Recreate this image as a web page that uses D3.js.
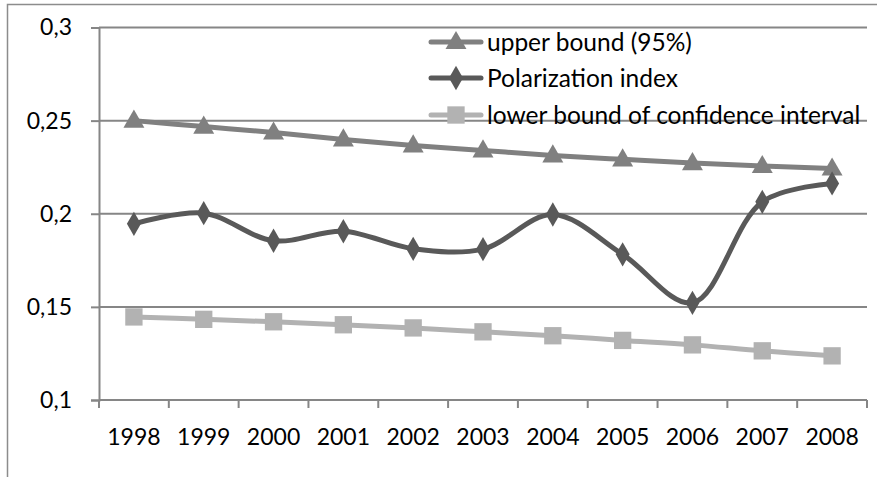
<!DOCTYPE html>
<html>
<head>
<meta charset="utf-8">
<script src="https://cdn.jsdelivr.net/npm/d3@7"></script>
<style>
  body { margin: 0; background: #fff; }
  svg { display: block; font-family: Lato, "Open Sans", sans-serif; }
</style>
</head>
<body>
<svg id="chart" width="877" height="477"></svg>
<script>
// values
const years = ["1998", "1999", "2000", "2001", "2002", "2003", "2004", "2005", "2006", "2007", "2008"];
const upperBound = [0.250, 0.2468, 0.2436, 0.2399, 0.2367, 0.2340, 0.2313, 0.2292, 0.2272, 0.2256, 0.2243];
const polarization = [0.1946, 0.2003, 0.1855, 0.1906, 0.1812, 0.1810, 0.1996, 0.1782, 0.1522, 0.2064, 0.2163];
const lowerBound = [0.1446, 0.1433, 0.1420, 0.1404, 0.1387, 0.1366, 0.1345, 0.1320, 0.1296, 0.1264, 0.1237];
const yTicks = [0.1, 0.15, 0.2, 0.25, 0.3];

const series = [
  { name: "upper bound (95%)", values: upperBound, color: "#808080", symbol: d3.symbolTriangle, size: 190 },
  { name: "Polarization index", values: polarization, color: "#595959", symbol: d3.symbolDiamond, size: 170 },
  { name: "lower bound of confidence interval", values: lowerBound, color: "#b2b2b2", symbol: d3.symbolSquare, size: 300 }
];

const svg = d3.select("#chart");
const margin = { top: 27.5, right: 10, bottom: 77, left: 99 };
const width = 877, height = 477;
const fontSize = 23;
const legendFontSize = 24.5;

const x = d3.scaleBand()
  .domain(years)
  .range([margin.left, width - margin.right]);

const y = d3.scaleLinear()
  .domain([0.1, 0.3])
  .range([height - margin.bottom, margin.top]);

const gridColor = "#868686";

// outer frame (only top and left edges show)
svg.append("path")
  .attr("d", `M7.5,${height}V4.5H${width}`)
  .attr("fill", "none")
  .attr("stroke", "#8c8c8c")
  .attr("stroke-width", 1.5);

// gridlines
svg.append("g")
  .selectAll("line")
  .data(yTicks.slice(1))
  .join("line")
  .attr("x1", margin.left)
  .attr("x2", width - margin.right)
  .attr("y1", d => y(d))
  .attr("y2", d => y(d))
  .attr("stroke", gridColor)
  .attr("stroke-width", 2);

const fmt = d => d3.format(".2~f")(d).replace(".", ",");

// y axis
const gy = svg.append("g")
  .attr("transform", `translate(${margin.left},0)`)
  .call(d3.axisLeft(y).tickValues(yTicks).tickFormat(fmt).tickSize(8).tickPadding(19));
gy.attr("font-family", null);
gy.select(".domain").attr("stroke", gridColor).attr("stroke-width", 2);
gy.selectAll(".tick line").attr("stroke", gridColor).attr("stroke-width", 2);
gy.selectAll(".tick text").attr("font-size", fontSize).attr("fill", "#000");

// x axis
const gx = svg.append("g")
  .attr("transform", `translate(0,${y(0.1)})`)
  .call(d3.axisBottom(x).tickSize(0).tickPadding(29));
gx.attr("font-family", null);
gx.select(".domain").remove();
gx.selectAll(".tick text").attr("font-size", fontSize).attr("fill", "#000");
gx.append("line")
  .attr("x1", margin.left).attr("x2", width - margin.right)
  .attr("stroke", gridColor).attr("stroke-width", 2);
gx.selectAll(".sep")
  .data(years.concat(["end"]))
  .join("line")
  .attr("class", "sep")
  .attr("x1", (d, i) => margin.left + i * x.bandwidth())
  .attr("x2", (d, i) => margin.left + i * x.bandwidth())
  .attr("y1", 0).attr("y2", 8)
  .attr("stroke", gridColor).attr("stroke-width", 2);

const line = d3.line()
  .x((d, i) => x(years[i]) + x.bandwidth() / 2)
  .y(d => y(d))
  .curve(d3.curveCatmullRom.alpha(0.5));

series.forEach(s => {
  svg.append("path")
    .datum(s.values)
    .attr("d", line)
    .attr("fill", "none")
    .attr("stroke", s.color)
    .attr("stroke-width", 5)
    .attr("stroke-linejoin", "round")
    .attr("stroke-linecap", "round");

  svg.append("g")
    .selectAll("path")
    .data(s.values)
    .join("path")
    .attr("transform", (d, i) => `translate(${x(years[i]) + x.bandwidth() / 2},${y(d) + (s.symbol === d3.symbolTriangle ? 1 : 0)})`)
    .attr("d", d3.symbol(s.symbol, s.size))
    .attr("fill", s.color);
});

// legend
const legend = svg.append("g").attr("transform", "translate(428,0)");
const legendY = [42, 78, 115];
series.forEach((s, i) => {
  const g = legend.append("g").attr("transform", `translate(0,${legendY[i]})`);
  g.append("line")
    .attr("x1", 3).attr("x2", 53)
    .attr("stroke", s.color).attr("stroke-width", 5).attr("stroke-linecap", "round");
  g.append("path")
    .attr("transform", `translate(28,${s.symbol === d3.symbolTriangle ? 1 : 0})`)
    .attr("d", d3.symbol(s.symbol, s.size))
    .attr("fill", s.color);
  g.append("text")
    .attr("x", 59)
    .attr("dy", "0.35em")
    .attr("font-size", legendFontSize)
    .attr("fill", "#000")
    .text(s.name);
});
</script>
</body>
</html>
